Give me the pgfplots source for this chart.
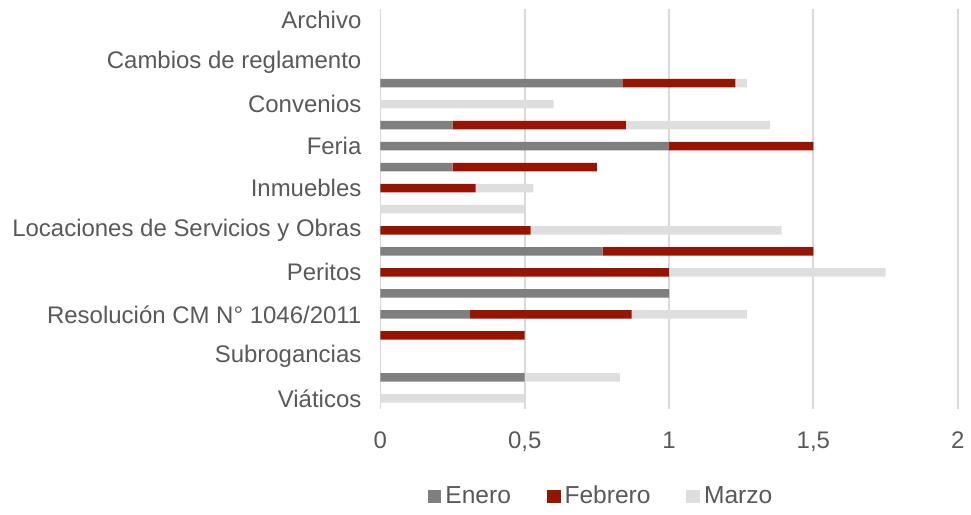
\documentclass[border=0pt]{standalone}
\usepackage{fontspec}
\setmainfont{Liberation Sans}
\usepackage{pgfplots}
\pgfplotsset{compat=1.18}
\definecolor{cEnero}{HTML}{7F7F7F}
\definecolor{cFeb}{HTML}{961400}
\definecolor{cMar}{HTML}{DEDEDE}
\definecolor{cText}{HTML}{595959}
\definecolor{cGrid}{HTML}{D9D9D9}
\begin{document}
\begin{tikzpicture}
\begin{axis}[
  scale only axis,
  width=289pt, height=200pt,
  xbar stacked,
  bar width=4.25pt,
  y dir=reverse,
  xmin=0, xmax=2,
  ymin=-0.5, ymax=18.5,
  xtick={0,0.5,1,1.5,2},
  ytick={0,2,4,6,8,10,12,14,16,18},
  yticklabels={Archivo,Cambios de reglamento,Convenios,Feria,Inmuebles,Locaciones de Servicios y Obras,Peritos,Resolución CM N° 1046/2011,Subrogancias,Viáticos},
  /pgf/number format/use comma,
  /pgf/number format/assume math mode=true,
  font=\fontsize{12pt}{14pt}\selectfont,
  tick label style={text=cText, font=\fontsize{12pt}{14pt}\selectfont},
  xticklabel style={yshift=-8pt},
  yticklabel style={xshift=-6pt},
  major tick length=0pt,
  xmajorgrids,
  grid style={cGrid, line width=0.9pt},
  axis line style={draw=none},
  clip=false,
  legend columns=3,
  legend style={draw=none, at={(rel axis cs:0.384,-0.219)}, anchor=center,
    font=\fontsize{12.3pt}{14pt}\selectfont, text=cText,
    /tikz/every even column/.append style={column sep=16pt}},
  legend cell align=left,
  legend image code/.code={\fill[#1] (0pt,-3.4pt) rectangle (6.8pt,3.4pt);},
]
\addplot[fill=cEnero, draw=none] coordinates {
(0,0) (0,1) (0,2) (0.84,3) (0,4) (0.25,5) (1,6) (0.25,7) (0,8) (0,9)
(0,10) (0.77,11) (0,12) (1,13) (0.31,14) (0,15) (0,16) (0.5,17) (0,18)};
\addplot[fill=cFeb, draw=none] coordinates {
(0,0) (0,1) (0,2) (0.39,3) (0,4) (0.6,5) (0.5,6) (0.5,7) (0.33,8) (0,9)
(0.52,10) (0.73,11) (1,12) (0,13) (0.56,14) (0.5,15) (0,16) (0,17) (0,18)};
\addplot[fill=cMar, draw=none] coordinates {
(0,0) (0,1) (0,2) (0.04,3) (0.6,4) (0.5,5) (0,6) (0,7) (0.2,8) (0.5,9)
(0.87,10) (0,11) (0.75,12) (0,13) (0.4,14) (0,15) (0,16) (0.33,17) (0.5,18)};
\legend{Enero,Febrero,Marzo}
\path (rel axis cs:-0.659,1.02375) rectangle (rel axis cs:1.0208,-0.25375);
\end{axis}
\end{tikzpicture}
\end{document}
